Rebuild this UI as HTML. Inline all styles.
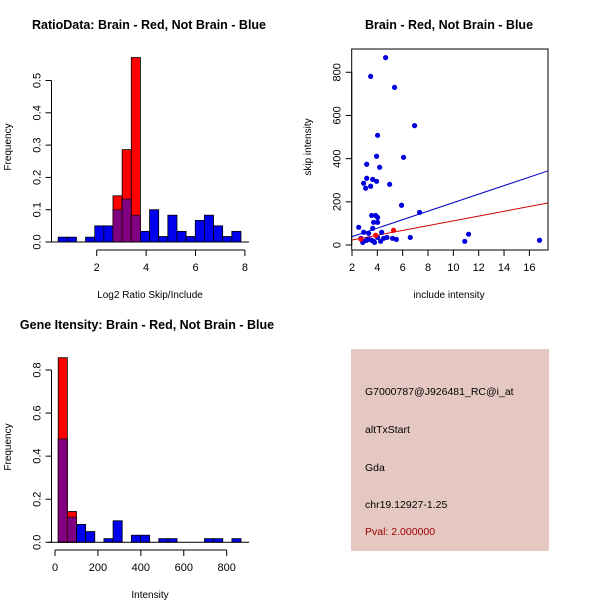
<!DOCTYPE html>
<html><head><meta charset="utf-8"><style>
body{margin:0;background:#fff}
svg{display:block;font-family:"Liberation Sans",sans-serif}
</style></head><body>
<svg id="s" width="600" height="600" xmlns="http://www.w3.org/2000/svg">
<rect width="600" height="600" fill="#fff"/>
<g id="p1"></g>
<g id="p2"></g>
<g id="p3"></g>
<g id="p4">
<rect x="351" y="349" width="198" height="202" fill="#e6c8c2"/>
<g font-size="10.5" fill="#000">
<text x="365" y="395">G7000787@J926481_RC@i_at</text>
<text x="365" y="433">altTxStart</text>
<text x="365" y="471">Gda</text>
<text x="365" y="508">chr19.12927-1.25</text>
<text x="365" y="535" fill="#a00000">Pval: 2.000000</text>
</g></g>
</svg>
<script>
// Panel 1 data
const ratioBinStart = 0.44, ratioBinWidth = 0.37;
const ratioBlue = [0.015,0.015,0,0.015,0.05,0.05,0.1,0.133,0.083,0.033,0.1,0.017,0.083,0.033,0.017,0.067,0.083,0.05,0.017,0.033];
const ratioRed = [0,0,0,0,0,0,0.143,0.286,0.571,0,0,0,0,0,0,0,0,0,0,0];
const ratioXTicks = [2,4,6,8];
const ratioYTicks = [0.0,0.1,0.2,0.3,0.4,0.5];
// Panel 2 data
const incl = [4.65,3.47,5.36,6.94,4.02,3.94,6.07,4.18,3.16,3.16,3.63,3.94,2.92,3.47,3.08,4.97,5.91,7.33,3.55,3.87,4.02,3.71,4.02,2.53,3.63,2.92,3.31,4.34,2.92,3.31,3.71,4.02,4.5,2.7,2.85,3.16,3.55,3.78,4.26,4.76,5.2,5.5,6.6,10.9,11.2,16.8];
const skip = [868,781,730,553,508,411,406,360,374,309,304,295,286,272,263,281,184,151,137,137,128,105,105,82,77,59,54,59,17,27,17,35,31,31,12,22,22,12,17,35,31,26,35,17,50,22];
const redIncl = [5.28,3.87,2.7];
const redSkip = [68,45,27];
const blueFit = [-0.8,19.7];
const redFit = [0.8,11.1];
const scatXTicks = [2,4,6,8,10,12,14,16];
const scatYTicks = [0,200,400,600,800];
// Panel 3 data
const intBinStart = 15, intBinWidth = 42.6;
const intBlue = [0.48,0.117,0.083,0.05,0,0.017,0.1,0,0.033,0.033,0,0.017,0.017,0,0,0,0.017,0.017,0,0.017];
const intRed = [0.857,0.143,0,0,0,0,0,0,0,0,0,0,0,0,0,0,0,0,0,0];
const intXTicks = [0,200,400,600,800];
const intYTicks = [0.0,0.2,0.4,0.6,0.8];

const NS="http://www.w3.org/2000/svg";
function mk(parent,tag,attrs,txt){const e=document.createElementNS(NS,tag);for(const k in attrs)e.setAttribute(k,attrs[k]);if(txt!==undefined)e.textContent=txt;parent.appendChild(e);return e;}

function hist(g,o){
  const X=v=>o.x0+(v-o.xv0)*o.xs, Y=v=>o.y0-v*o.ys;
  for(let i=0;i<o.blue.length;i++){
    const a=o.start+i*o.w, b=a+o.w, bl=o.blue[i], rd=o.red[i];
    if(bl>0){const r=mk(g,'rect',{x:X(a),y:Y(bl),width:X(b)-X(a),height:Y(0)-Y(bl),fill:'#0000ee',stroke:'#000','stroke-width':0.8});
      
      }
    if(rd>0){const r=mk(g,'rect',{x:X(a),y:Y(rd),width:X(b)-X(a),height:Y(0)-Y(rd),fill:'#ff0000',stroke:'#000','stroke-width':0.8});
      
      }
    const m=Math.min(bl,rd);
    if(m>0){const r=mk(g,'rect',{x:X(a),y:Y(m),width:X(b)-X(a),height:Y(0)-Y(m),fill:'#7f0080',stroke:'#300','stroke-width':0.8});
      
      }
  }
  mk(g,'line',{x1:X(o.start)-10,x2:X(o.start+o.w*o.blue.length)+8,y1:Y(0),y2:Y(0),stroke:'#000'});
  axes(g,X,Y,o);
}
function axes(g,X,Y,o){
  const xa=mk(g,'g',{});
  
  
  const ay=o.xAxisY;
  mk(xa,'line',{x1:X(o.xt[0]),x2:X(o.xt[o.xt.length-1]),y1:ay,y2:ay,stroke:'#000'});
  o.xt.forEach(t=>{mk(xa,'line',{x1:X(t),x2:X(t),y1:ay,y2:ay+6,stroke:'#000'});
    const tx=mk(xa,'text',{x:X(t),y:ay+21,'font-size':11,'text-anchor':'middle'},String(t));
    
    });
  const ya=mk(g,'g',{});
  
  
  const ax=o.yAxisX;
  mk(ya,'line',{x1:ax,x2:ax,y1:Y(o.yt[0]),y2:Y(o.yt[o.yt.length-1]),stroke:'#000'});
  o.yt.forEach(t=>{mk(ya,'line',{x1:ax-6,x2:ax,y1:Y(t),y2:Y(t),stroke:'#000'});
    const tx=mk(ya,'text',{x:ax-11,y:Y(t),'font-size':11,'text-anchor':'middle',transform:`rotate(-90 ${ax-11} ${Y(t)})`},o.yfmt(t));
    
    });
  const xt=mk(g,'text',{x:o.xlx,y:o.xly,'font-size':10,'text-anchor':'middle'},o.xlab);
  
  
  const yt=mk(g,'text',{x:o.ylx,y:o.yly,'font-size':10,'text-anchor':'middle',transform:`rotate(-90 ${o.ylx} ${o.yly})`},o.ylab);
  
  
  const ti=mk(g,'text',{x:o.tx,y:o.ty,'font-size':12.5,'font-weight':'bold','text-anchor':'middle'},o.title);
  
  
}
const f1=t=>t.toFixed(1);
hist(document.getElementById('p1'),{x0:96.7,xv0:2,xs:24.7,y0:242,ys:323,start:ratioBinStart,w:ratioBinWidth,blue:ratioBlue,red:ratioRed,
  xt:ratioXTicks,yt:ratioYTicks,yfmt:f1,xAxisY:250,yAxisX:51.5,xlab:'Log2 Ratio Skip/Include',xlx:150,xly:298,ylab:'Frequency',ylx:11,yly:147,
  title:'RatioData: Brain - Red, Not Brain - Blue',tx:149,ty:29});
hist(document.getElementById('p3'),{x0:55,xv0:0,xs:0.2146,y0:542.3,ys:215.4,start:intBinStart,w:intBinWidth,blue:intBlue,red:intRed,
  xt:intXTicks,yt:intYTicks,yfmt:f1,xAxisY:550,yAxisX:51.5,xlab:'Intensity',xlx:150,xly:598,ylab:'Frequency',ylx:11,yly:447,
  title:'Gene Itensity: Brain - Red, Not Brain - Blue',tx:147,ty:329});

(function(){
  const g=document.getElementById('p2');
  const X=v=>352+(v-2)*12.67, Y=v=>245-v*0.2159;
  mk(g,'rect',{x:351.7,y:49,width:196.3,height:201,fill:'none',stroke:'#000'});
  const clip=mk(g,'clipPath',{id:'c2'});mk(clip,'rect',{x:351.7,y:49,width:196.3,height:201});
  const ln=mk(g,'g',{'clip-path':'url(#c2)'});
  const xa=1.5,xb=17.6;
  const lb=mk(ln,'line',{x1:X(xa),y1:Y(blueFit[0]+blueFit[1]*xa),x2:X(xb),y2:Y(blueFit[0]+blueFit[1]*xb),stroke:'#0000cc'});
  
  
  const lr=mk(ln,'line',{x1:X(xa),y1:Y(redFit[0]+redFit[1]*xa),x2:X(xb),y2:Y(redFit[0]+redFit[1]*xb),stroke:'#cc0000'});
  
  
  incl.forEach((v,i)=>{const c=mk(g,'circle',{cx:X(v),cy:Y(skip[i]),r:2.6,fill:'#0000dd'});
    
    });
  redIncl.forEach((v,i)=>{const c=mk(g,'circle',{cx:X(v),cy:Y(redSkip[i]),r:2.6,fill:'#ff0000'});
    
    });
  axes(g,X,Y,{xt:scatXTicks,yt:scatYTicks,yfmt:t=>String(t),xAxisY:250,yAxisX:351.7,xlab:'include intensity',xlx:449,xly:298,
    ylab:'skip intensity',ylx:311,yly:147,title:'Brain - Red, Not Brain - Blue',tx:449,ty:29});
})();
</script>
</body></html>
